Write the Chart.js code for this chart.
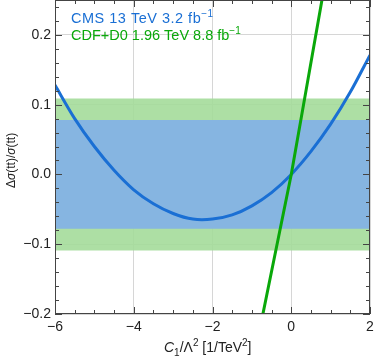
<!DOCTYPE html>
<html>
<head>
<meta charset="utf-8">
<script src="https://cdn.jsdelivr.net/npm/chart.js@4"></script>
<style>
  html, body { margin: 0; padding: 0; background: #fff; }
  #wrap { width: 374px; height: 358px; }
</style>
</head>
<body>
<div id="wrap"><canvas id="chart" width="374" height="358"></canvas></div>
<script>
// values
const xTicks = [-6, -4, -2, 0, 2];
const yTicks = [-0.2, -0.1, 0.0, 0.1, 0.2];

const cmsX = [-6, -5.5, -5, -4.5, -4, -3.5, -3, -2.5, -2, -1.5, -1, -0.5, 0, 0.5, 1, 1.5, 2];
const cmsY = [0.128, 0.080, 0.040, 0.006, -0.022, -0.042, -0.056, -0.064, -0.064, -0.058, -0.045, -0.026, 0.0, 0.033, 0.072, 0.118, 0.171];

const tevX = [-0.72, 0, 0.78];
const tevY = [-0.2, 0.0, 0.25];

const cmsBand = [-0.078, 0.078];
const tevBand = [-0.109, 0.109];
const xRange = [-6, 2];

const blue = "#1a6fd4";
const green = "#0aa80a";

function pts(xs, ys) {
  return xs.map((x, i) => ({ x: x, y: ys[i] }));
}
function minus(s) {
  return String(s).replace("-", "\u2212");
}

// frame, inner ticks and the rich text labels
const framePlugin = {
  id: "frame",
  afterDraw(chart) {
    const ctx = chart.ctx;
    const a = chart.chartArea;
    const xs = chart.scales.x, ys = chart.scales.y;
    ctx.save();
    ctx.strokeStyle = "#444";
    ctx.lineWidth = 1;
    ctx.strokeRect(a.left + 0.5, a.top + 0.5, a.right - a.left - 1, a.bottom - a.top - 1);

    ctx.beginPath();
    for (let v = -6; v <= 2.001; v += 0.5) {
      const px = Math.round(xs.getPixelForValue(v)) + 0.5;
      const len = Math.abs(v % 2) < 0.01 ? 7 : 4;
      ctx.moveTo(px, a.bottom); ctx.lineTo(px, a.bottom - len);
      ctx.moveTo(px, a.top); ctx.lineTo(px, a.top + len);
    }
    for (let i = -10; i <= 12; i++) {
      const v = i * 0.02;
      const py = Math.round(ys.getPixelForValue(v)) + 0.5;
      const len = i % 5 === 0 ? 7 : 4;
      ctx.moveTo(a.left, py); ctx.lineTo(a.left + len, py);
      ctx.moveTo(a.right, py); ctx.lineTo(a.right - len, py);
    }
    ctx.stroke();

    function rich(parts, x, y) {
      for (const p of parts) {
        ctx.font = p.font;
        ctx.fillStyle = p.color;
        ctx.fillText(p.t, x, y + (p.dy || 0));
        x += ctx.measureText(p.t).width + (p.gap || 0);
      }
      return x;
    }
    ctx.textBaseline = "alphabetic";
    ctx.textAlign = "left";

    // legend text
    const f = "14.5px 'Liberation Sans', Arial, sans-serif";
    const fs = "10px 'Liberation Sans', Arial, sans-serif";
    ctx.letterSpacing = "0.5px";
    rich([{ t: "CMS 13 TeV 3.2 fb", font: f, color: blue }, { t: "\u22121", font: fs, color: blue, dy: -6 }], 71, 23);
    ctx.letterSpacing = "0px";
    rich([{ t: "CDF+D0 1.96 TeV 8.8 fb", font: f, color: green }, { t: "\u22121", font: fs, color: green, dy: -6 }], 71, 40);

    // x axis title
    const tf = "14px 'Liberation Sans', Arial, sans-serif";
    const ti = "italic 14px 'Liberation Sans', Arial, sans-serif";
    const ts = "10px 'Liberation Sans', Arial, sans-serif";
    rich([
      { t: "C", font: ti, color: "#222" },
      { t: "1", font: ts, color: "#222", dy: 4 },
      { t: "/\u039B", font: tf, color: "#222" },
      { t: "2", font: ts, color: "#222", dy: -6 },
      { t: " [1/TeV", font: tf, color: "#222" },
      { t: "2", font: ts, color: "#222", dy: -6 },
      { t: "]", font: tf, color: "#222" }
    ], 164, 352);

    // y axis title (rotated)
    const yf = "12px 'Liberation Sans', Arial, sans-serif";
    const yi = "italic 12px 'Liberation Sans', Arial, sans-serif";
    ctx.translate(15, 188);
    ctx.rotate(-Math.PI / 2);
    rich([
      { t: "\u0394", font: yf, color: "#222" },
      { t: "\u03C3", font: yi, color: "#222" },
      { t: "(tt)/", font: yf, color: "#222" },
      { t: "\u03C3", font: yi, color: "#222" },
      { t: "(tt)", font: yf, color: "#222" }
    ], 0, 0);
    ctx.restore();
  }
};

new Chart(document.getElementById("chart").getContext("2d"), {
  type: "line",
  data: {
    datasets: [
      {
        label: "CDF+D0 line",
        data: pts(tevX, tevY),
        borderColor: green,
        borderWidth: 3,
        pointRadius: 0,
        fill: false,
        order: 0
      },
      {
        label: "CMS curve",
        data: pts(cmsX, cmsY),
        borderColor: blue,
        borderWidth: 3,
        pointRadius: 0,
        tension: 0.3,
        fill: false,
        order: 1
      },
      {
        label: "CMS band",
        data: pts(xRange, [cmsBand[1], cmsBand[1]]),
        borderWidth: 0,
        borderColor: "rgba(0,0,0,0)",
        pointRadius: 0,
        backgroundColor: "rgba(130,176,232,0.9)",
        fill: { value: cmsBand[0] },
        order: 2
      },
      {
        label: "CDF+D0 band",
        data: pts(xRange, [tevBand[1], tevBand[1]]),
        borderWidth: 0,
        borderColor: "rgba(0,0,0,0)",
        pointRadius: 0,
        backgroundColor: "rgba(164,220,154,0.9)",
        fill: { value: tevBand[0] },
        order: 3
      }
    ]
  },
  options: {
    responsive: false,
    animation: false,
    layout: { padding: { top: 0, right: 4, left: 0, bottom: 0 } },
    plugins: { legend: { display: false }, tooltip: { enabled: false } },
    scales: {
      x: {
        type: "linear",
        min: xRange[0],
        max: xRange[1],
        afterBuildTicks: s => { s.ticks = xTicks.map(v => ({ value: v })); },
        afterFit: s => { s.height = 44; s.paddingLeft = 0; s.paddingRight = 0; },
        grid: { color: "#d6d6d6", drawTicks: false },
        border: { display: false },
        ticks: {
          padding: 5,
          color: "#222",
          font: { size: 14, family: "'Liberation Sans', Arial, sans-serif" },
          maxRotation: 0,
          callback: v => minus(v)
        }
      },
      y: {
        min: -0.2,
        max: 0.25,
        afterBuildTicks: s => { s.ticks = yTicks.map(v => ({ value: v })); },
        afterFit: s => { s.width = 55; s.paddingTop = 0; s.paddingBottom = 0; },
        grid: { color: "#d6d6d6", drawTicks: false },
        border: { display: false },
        ticks: {
          padding: 4,
          color: "#222",
          font: { size: 14, family: "'Liberation Sans', Arial, sans-serif" },
          callback: v => minus(Number(v).toFixed(1))
        }
      }
    }
  },
  plugins: [framePlugin]
});
</script>
</body>
</html>
